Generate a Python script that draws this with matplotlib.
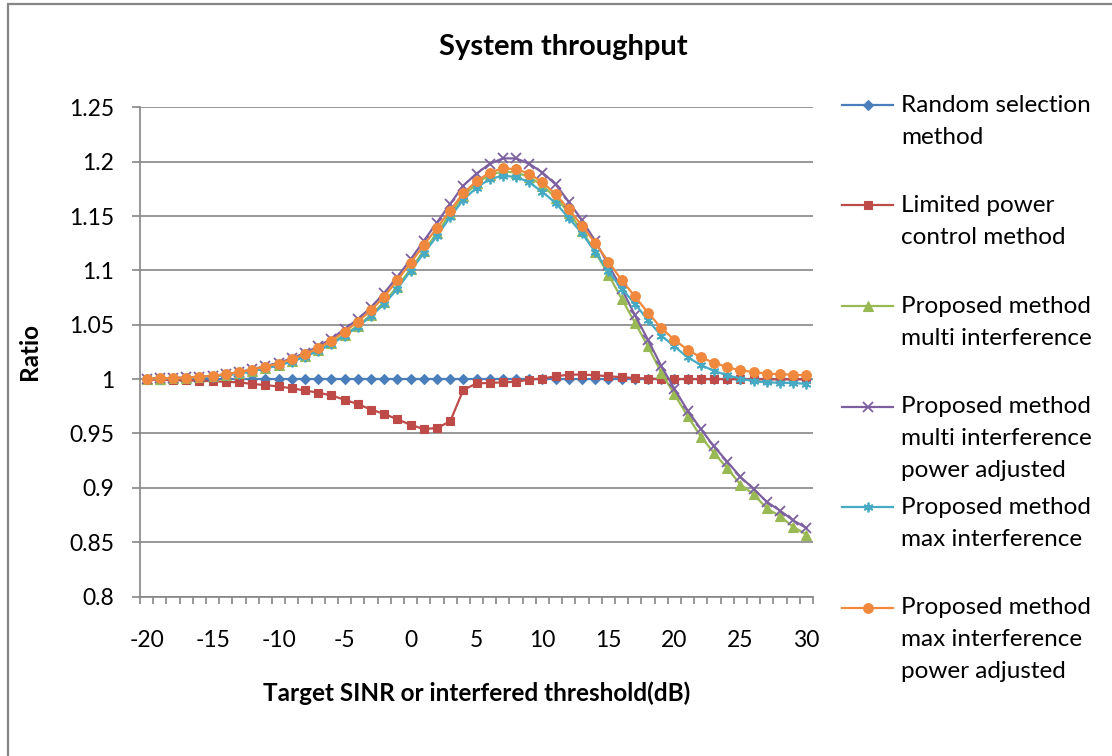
import numpy as np
import matplotlib.pyplot as plt
from matplotlib.lines import Line2D
from matplotlib.patches import Rectangle

plt.rcParams['font.family'] = ['Lato', 'DejaVu Sans']
plt.rcParams['axes.unicode_minus'] = False

# Target SINR / interfered threshold (dB)
x_db = list(range(-20, 31))

random_sel = [1.0] * 51

limited_power = [
    0.9995, 0.9993, 0.999, 0.9988, 0.9985, 0.998, 0.9975, 0.997, 0.9955, 0.9945,
    0.9932, 0.9915, 0.9895, 0.9875, 0.985, 0.981, 0.977, 0.972, 0.968, 0.963,
    0.958, 0.954, 0.955, 0.961, 0.990, 0.996, 0.9965, 0.997, 0.9975, 0.9995,
    1.0005, 1.0026, 1.004, 1.0042, 1.0035, 1.0026, 1.0017, 1.001, 1.0005, 1.0,
    1.0, 1.0, 1.0, 1.0, 1.0, 0.9998, 0.9998, 0.9998, 0.9998, 0.9998, 0.9998,
]

multi_intf = [
    1.0003, 1.0005, 1.0008, 1.0011, 1.0017, 1.0025, 1.0037, 1.0053, 1.0075, 1.0102,
    1.013, 1.0165, 1.021, 1.0265, 1.033, 1.041, 1.049, 1.059, 1.071, 1.085,
    1.101, 1.118, 1.134, 1.152, 1.168, 1.180, 1.188, 1.191, 1.190, 1.186,
    1.178, 1.167, 1.153, 1.136, 1.117, 1.096, 1.074, 1.052, 1.030, 1.006,
    0.986, 0.966, 0.947, 0.932, 0.918, 0.903, 0.894, 0.881, 0.874, 0.864, 0.857,
]

multi_intf_pa = [
    1.0005, 1.0007, 1.001, 1.0015, 1.002, 1.003, 1.0045, 1.0065, 1.009, 1.012,
    1.015, 1.019, 1.024, 1.030, 1.037, 1.046, 1.055, 1.066, 1.079, 1.094,
    1.110, 1.127, 1.144, 1.161, 1.178, 1.189, 1.198, 1.203, 1.203, 1.198,
    1.190, 1.179, 1.163, 1.146, 1.127, 1.105, 1.083, 1.059, 1.036, 1.012,
    0.991, 0.971, 0.954, 0.938, 0.924, 0.910, 0.899, 0.887, 0.879, 0.870, 0.863,
]

max_intf = [
    1.0003, 1.0005, 1.0008, 1.001, 1.0015, 1.0023, 1.0035, 1.005, 1.0072, 1.0098,
    1.0125, 1.016, 1.0205, 1.026, 1.032, 1.040, 1.048, 1.058, 1.069, 1.083,
    1.0995, 1.1156, 1.1315, 1.149, 1.165, 1.176, 1.184, 1.187, 1.186, 1.181,
    1.172, 1.162, 1.148, 1.134, 1.117, 1.099, 1.083, 1.0695, 1.054, 1.040,
    1.030, 1.020, 1.013, 1.0075, 1.0035, 1.0005, 0.998, 0.997, 0.9966, 0.9965, 0.9955,
]

max_intf_pa = [
    1.0005, 1.0007, 1.001, 1.0014, 1.002, 1.003, 1.0044, 1.0063, 1.0087, 1.0115,
    1.0143, 1.0183, 1.0228, 1.0286, 1.0354, 1.0437, 1.0526, 1.0634, 1.0756, 1.091,
    1.107, 1.123, 1.139, 1.155, 1.171, 1.182, 1.190, 1.194, 1.193, 1.189,
    1.181, 1.170, 1.156, 1.141, 1.125, 1.108, 1.091, 1.076, 1.061, 1.047,
    1.036, 1.027, 1.020, 1.015, 1.011, 1.008, 1.0065, 1.005, 1.0045, 1.004, 1.0035,
]

series = [
    ("Random selection\nmethod", random_sel, "#4A7EBB", "D", 5.5),
    ("Limited power\ncontrol method", limited_power, "#BE4B48", "s", 6.0),
    ("Proposed method\nmulti interference", multi_intf, "#98B954", "^", 6.5),
    ("Proposed method\nmulti interference\npower adjusted", multi_intf_pa, "#7D60A0", "x", 6.5),
    ("Proposed method\nmax interference", max_intf, "#46AAC5", (6, 2, 0), 7.0),
    ("Proposed method\nmax interference\npower adjusted", max_intf_pa, "#F0893E", "o", 7.0),
]

W, H = 1112, 756
fig = plt.figure(figsize=(W / 100, H / 100), dpi=100)
ax = fig.add_axes([140 / W, 1 - 596.5 / H, (813 - 140) / W, (596.5 - 107.3) / H])

grey = "#868686"

for label, vals, col, mk, ms in series:
    filled = mk not in ("x", (6, 2, 0))
    ax.plot(x_db, vals, color=col, lw=1.6, marker=mk, ms=ms,
            mfc=col if filled else "none", mec=col, mew=1.3 if not filled else 0.8)

ax.set_xlim(-20.5, 30.5)
ax.set_ylim(0.8, 1.25)
ax.set_yticks(np.arange(0.8, 1.2501, 0.05))
ax.set_yticklabels(["0.8", "0.85", "0.9", "0.95", "1", "1.05", "1.1", "1.15", "1.2", "1.25"])
ax.set_xticks(range(-20, 31, 5))
ax.set_xticks(np.arange(-20.5, 31, 1), minor=True)
ax.tick_params(axis="x", which="major", length=0, labelsize=16.5, pad=24)
ax.tick_params(axis="x", which="minor", length=5, color=grey, width=1.2, direction="out")
ax.tick_params(axis="y", length=5.8, color=grey, width=1.2, labelsize=16.5, pad=13)
ax.grid(axis="y", color=grey, lw=1.2)
ax.set_axisbelow(True)
for s in ("top", "right"):
    ax.spines[s].set_visible(False)
for s in ("left", "bottom"):
    ax.spines[s].set_color(grey)
    ax.spines[s].set_linewidth(1.2)

ax.set_xlabel("Target SINR or interfered threshold(dB)", fontsize=17.5, fontweight="bold", labelpad=22)
ax.set_ylabel("Ratio", fontsize=17.5, fontweight="bold", labelpad=20)
fig.text(563 / W, 1 - 47 / H, "System throughput", fontsize=21, fontweight="bold",
         ha="center", va="center")

# legend drawn by hand so each handle sits on the first text line
for i, (label, vals, col, mk, ms) in enumerate(series):
    yl = 1 - (105 + i * 100.5) / H
    filled = mk not in ("x", (6, 2, 0))
    fig.add_artist(Line2D([842 / W, 893 / W], [yl, yl], color=col, lw=1.6,
                          transform=fig.transFigure))
    fig.add_artist(Line2D([867.5 / W], [yl], color=col, marker=mk, ms=ms,
                          mfc=col if filled else "none", mec=col,
                          mew=1.3 if not filled else 0.8, transform=fig.transFigure))
    fig.text(901 / W, yl + 10 / H, label, fontsize=17.5, ha="left", va="top",
             linespacing=1.62, transform=fig.transFigure)

# chart area border (runs off the right and bottom edges)
fig.add_artist(Rectangle((8 / W, -0.05), 1.2, 1.05 - 4 / H, fill=False, ec=grey, lw=1.6,
                         transform=fig.transFigure))

fig.savefig("out.png", dpi=100)
